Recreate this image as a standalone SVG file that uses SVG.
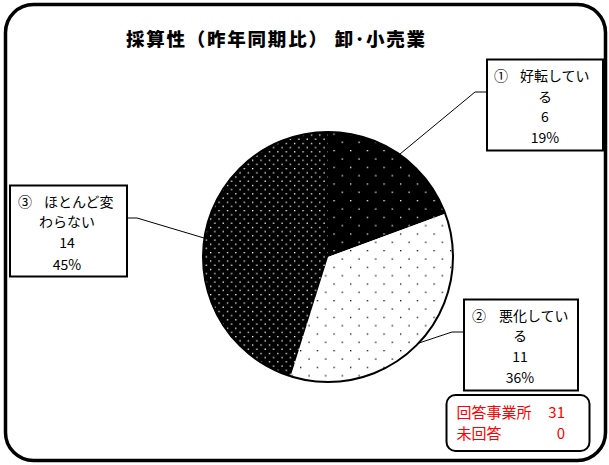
<svg xmlns="http://www.w3.org/2000/svg" width="609" height="465" viewBox="0 0 609 465">
<style>
.lbl{font-family:"Noto Sans CJK JP","Liberation Sans",sans-serif;font-size:14px;fill:#000}
.red{font-family:"Noto Sans CJK JP","Liberation Sans",sans-serif;font-size:15px;fill:#FF0000}
.box{fill:#fff;stroke:#000;stroke-width:2}
.lead{fill:none;stroke:#000;stroke-width:1}
</style>
<defs>
<pattern id="sparseW" width="16.67" height="16.67" patternUnits="userSpaceOnUse">
<rect width="16.67" height="16.67" fill="#000"/>
<rect x="0" y="0" width="1.3" height="1.3" fill="#fff"/>
<rect x="8.33" y="8.33" width="1.3" height="1.3" fill="#fff"/>
</pattern>
<pattern id="sparseB" width="16.67" height="16.67" patternUnits="userSpaceOnUse">
<rect width="16.67" height="16.67" fill="#fff"/>
<rect x="0" y="0" width="1.3" height="1.3" fill="#000"/>
<rect x="8.33" y="8.33" width="1.3" height="1.3" fill="#000"/>
</pattern>
<pattern id="denseW" width="8.4" height="8.4" patternUnits="userSpaceOnUse">
<rect width="8.4" height="8.4" fill="#000"/>
<rect x="0" y="0" width="1.3" height="1.3" fill="#fff"/>
<rect x="4.2" y="4.2" width="1.3" height="1.3" fill="#fff"/>
</pattern>
</defs>
<rect width="609" height="465" fill="#fff"/>
<rect id="frame" x="5.5" y="4.5" width="600" height="456" rx="28" ry="28" fill="#fff" stroke="#000" stroke-width="3.5"/>
<text id="title" x="126" y="46" font-family="'Noto Sans CJK JP','Liberation Sans',sans-serif" font-size="18.5" font-weight="900" textLength="299" lengthAdjust="spacing">採算性（昨年同期比） 卸･小売業</text>
<g id="pie">
<path id="slice1" d="M328,257 L328,132 A125,125 0 0,1 445.25,213.67 Z" fill="url(#sparseW)"/>
<path id="slice2" d="M328,257 L445.25,213.67 A125,125 0 0,1 290.58,376.27 Z" fill="url(#sparseB)"/>
<path id="slice3" d="M328,257 L290.58,376.27 A125,125 0 0,1 328,132 Z" fill="url(#denseW)"/>
<circle cx="328" cy="257" r="125" fill="none" stroke="#000" stroke-width="2"/>
</g>
<g id="connectors">
<polyline class="lead" points="487,92 475,92 400,154"/>
<polyline class="lead" points="464,332 452,332 419,343"/>
<polyline class="lead" points="127,218 137,218 204,238"/>
</g>
<g id="label1">
<rect class="box" x="487" y="59.5" width="116" height="91"/>
<text class="lbl" x="494" y="80.5">①<tspan x="520">好転してい</tspan></text>
<text class="lbl" x="545" y="101.5" text-anchor="middle">る</text>
<text class="lbl" x="545" y="121.5" text-anchor="middle">6</text>
<text class="lbl" x="545" y="142.5" text-anchor="middle">19%</text>
</g>
<g id="label2">
<rect class="box" x="464" y="299.5" width="114" height="91"/>
<text class="lbl" x="472" y="320.5">②<tspan x="499">悪化してい</tspan></text>
<text class="lbl" x="520" y="340.5" text-anchor="middle">る</text>
<text class="lbl" x="520" y="361.5" text-anchor="middle">11</text>
<text class="lbl" x="520" y="382.5" text-anchor="middle">36%</text>
</g>
<g id="label3">
<rect class="box" x="10" y="185.5" width="117" height="91"/>
<text class="lbl" x="18" y="206.5">③<tspan x="44">ほとんど変</tspan></text>
<text class="lbl" x="67" y="226.5" text-anchor="middle">わらない</text>
<text class="lbl" x="67" y="248" text-anchor="middle">14</text>
<text class="lbl" x="67" y="269.5" text-anchor="middle">45%</text>
</g>
<g id="summary">
<rect x="446.5" y="395" width="143" height="56" rx="9" ry="9" fill="#fff" stroke="#000" stroke-width="2"/>
<text class="red" x="456.5" y="418">回答事業所</text>
<text class="red" x="565" y="418" text-anchor="end">31</text>
<text class="red" x="456.5" y="438.5">未回答</text>
<text class="red" x="565" y="438.5" text-anchor="end">0</text>
</g>
</svg>
